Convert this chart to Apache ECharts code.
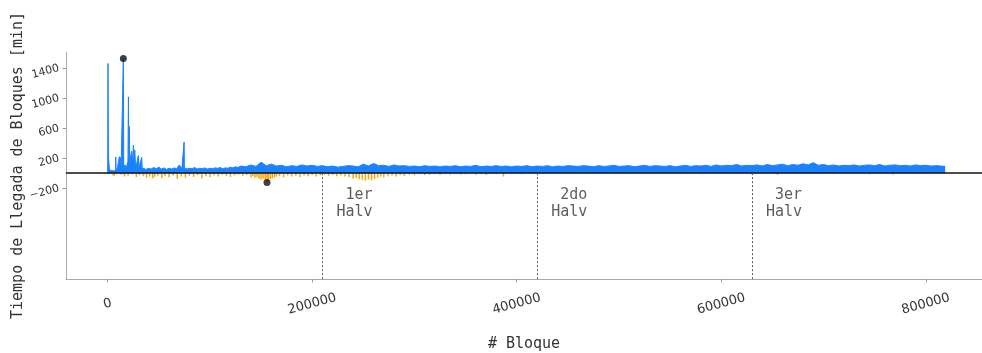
<!DOCTYPE html>
<html>
<head>
<meta charset="utf-8">
<script src="https://cdn.jsdelivr.net/npm/echarts@6/dist/echarts.min.js"></script>
<style>
  html, body { margin: 0; padding: 0; background: #fff; }
  #chart { width: 982px; height: 353px; }
</style>
</head>
<body>
<div id="chart"></div>
<script>
// bloques y tiempos (min) de la serie positiva
var bloquesPos = [
    0, 300, 700, 1300, 1800, 3000, 4500, 6000, 7600, 7900, 8200, 9500, 11000, 11400, 11700,
    12800, 13100, 14000, 14900, 15300, 15700, 17000, 18500, 19800, 20250, 20700, 21200, 21600,
    22500, 23500, 24200, 25100, 25700, 26500, 27200, 28500, 30000, 30500, 32000, 33300, 33700,
    35000, 37500, 40000, 42500, 45000, 47500, 50000, 52500, 55000, 57500, 60000, 62500, 65000,
    67500, 70000, 72500, 74400, 74700, 75000, 77500, 80000, 82500, 85000, 87500, 90000, 92500,
    95000, 97500, 100000, 102500, 105000, 107500, 110000, 112500, 115000, 117500, 120000, 122500,
    125000, 127500, 130000, 135000, 140000, 145000, 150000, 155000, 160000, 165000, 170000,
    175000, 180000, 185000, 190000, 195000, 200000, 205000, 210000, 215000, 220000, 225000,
    230000, 235000, 240000, 245000, 250000, 255000, 260000, 265000, 270000, 275000, 280000,
    285000, 290000, 295000, 300000, 305000, 310000, 315000, 320000, 325000, 330000, 335000,
    340000, 345000, 350000, 355000, 360000, 365000, 370000, 375000, 380000, 385000, 390000,
    395000, 400000, 405000, 410000, 415000, 420000, 425000, 430000, 435000, 440000, 445000,
    450000, 455000, 460000, 465000, 470000, 475000, 480000, 485000, 490000, 495000, 500000,
    505000, 510000, 515000, 520000, 525000, 530000, 535000, 540000, 545000, 550000, 555000,
    560000, 565000, 570000, 575000, 580000, 585000, 590000, 595000, 600000, 605000, 610000,
    615000, 620000, 625000, 630000, 635000, 640000, 645000, 650000, 655000, 660000, 665000,
    670000, 675000, 680000, 685000, 690000, 695000, 700000, 705000, 710000, 715000, 720000,
    725000, 730000, 735000, 740000, 745000, 750000, 755000, 760000, 765000, 770000, 775000,
    780000, 785000, 790000, 795000, 800000, 805000, 810000, 815000, 819000
];
var tiemposPos = [
    0, 1460, 220, 220, 40, 55, 35, 60, 30, 215, 40, 70, 45, 220, 50,
    210, 60, 85, 70, 1525, 110, 130, 90, 160, 1015, 200, 620, 160,
    230, 290, 120, 370, 160, 310, 100, 140, 235, 80, 100, 210, 70,
    60, 50, 65, 55, 75, 60, 80, 55, 70, 50, 65, 55, 70,
    60, 110, 60, 70, 415, 70, 55, 65, 60, 75, 55, 65, 60,
    70, 55, 65, 60, 70, 65, 75, 60, 70, 65, 80, 70,
    85, 75, 95, 85, 110, 90, 145, 100, 120, 95, 105,
    85, 100, 90, 110, 95, 105, 90, 100, 85, 95, 80,
    90, 100, 95, 85, 120, 95, 130, 100, 105, 90, 110,
    95, 100, 90, 95, 85, 100, 90, 95, 85, 95, 90,
    100, 85, 95, 90, 105, 85, 95, 90, 100, 90, 95,
    85, 95, 90, 100, 85, 95, 90, 100, 85, 95, 90,
    100, 95, 90, 100, 95, 85, 100, 90, 95, 105, 90,
    95, 100, 85, 95, 105, 90, 100, 95, 90, 100, 85,
    95, 105, 90, 100, 95, 105, 90, 110, 95, 105, 100,
    115, 95, 105, 100, 110, 95, 115, 100, 110, 120, 100,
    115, 105, 125, 110, 140, 105, 115, 100, 110, 95, 105,
    100, 110, 95, 105, 110, 100, 115, 95, 105, 110, 100,
    105, 95, 110, 100, 105, 95, 100, 95, 90
];
// bloques y tiempos (min) negativos
var bloquesNeg = [
    5300, 6500, 9000, 13000, 16500, 20000, 24000, 28000, 31000, 35000, 38000, 41000, 44000,
    46000, 49000, 53000, 56000, 60000, 64000, 68000, 72000, 76000, 80000, 84000, 88000, 92000,
    96000, 100000, 104000, 108000, 112000, 116000, 120000, 124000, 128000, 132000, 136000,
    140000, 142000, 144000, 146000, 148000, 150000, 152000, 154000, 155800, 157000, 159000,
    161000, 163000, 165000, 168000, 172000, 176000, 180000, 184000, 188000, 192000, 196000,
    200000, 204000, 208000, 212000, 216000, 220000, 224000, 228000, 232000, 236000, 240000,
    243000, 246000, 249000, 252000, 255000, 258000, 261000, 264000, 267000, 270000, 274000,
    278000, 282000, 286000, 290000, 295000, 300000, 305000, 310000, 315000, 320000, 325000,
    330000, 335000, 340000, 345000, 350000, 355000, 360000, 365000, 370000, 375000, 380000,
    387000, 395000, 405000, 415000, 430000, 450000, 470000, 500000, 530000, 560000, 600000,
    630000, 655000, 690000, 720000, 745000, 768000, 790000
];
var tiemposNeg = [
    -30, -35, -15, -20, -45, -30, -15, -50, -25, -40, -60, -45, -70,
    -50, -35, -65, -40, -55, -30, -75, -45, -60, -35, -50, -25, -70,
    -40, -55, -30, -45, -20, -35, -50, -30, -20, -40, -25,
    -55, -40, -60, -50, -75, -85, -70, -95, -120, -90, -80,
    -70, -60, -45, -40, -55, -30, -45, -35, -50, -30, -40,
    -25, -45, -30, -20, -35, -25, -40, -30, -45, -55, -70,
    -65, -80, -90, -100, -85, -95, -75, -60, -45, -55, -40,
    -30, -45, -25, -35, -20, -30, -15, -25, -20, -15, -25,
    -15, -20, -10, -20, -15, -10, -20, -15, -25, -10, -15,
    -45, -10, -15, -10, -12, -10, -12, -10, -12, -10, -12,
    -20, -22, -12, -10, -15, -20, -10
];
// extremos (bloque, min)
var extremos = [[15300, 1525], [155800, -124]];
// halvings
var halvings = [210000, 420000, 630000];
var halvingTextos = [' 1er\nHalv', ' 2do\nHalv', ' 3er\nHalv'];
// ticks
var ticksX = [0, 200000, 400000, 600000, 800000];
var ticksY = [-200, 200, 600, 1000, 1400];

var yMin = -1408, yMax = 1612;
var mono = 'DejaVu Sans Mono';

function zip(a, b) {
    return a.map(function (v, i) { return [v, b[i]]; });
}
function plano(v) { return String(v).replace('-', '\u2212'); }

var chart = echarts.init(document.getElementById('chart'));
chart.setOption({
    animation: false,
    grid: { left: 66, right: 0, top: 52, bottom: 74, outerBoundsMode: 'none' },
    xAxis: {
        type: 'value',
        min: -40780,
        max: 855000,
        name: '# Bloque',
        nameLocation: 'middle',
        nameGap: 58,
        nameMoveOverlap: false,
        nameTextStyle: { fontFamily: mono, fontSize: 15, color: '#333' },
        splitLine: { show: false },
        axisLine: { onZero: false, lineStyle: { color: '#aaa', width: 1 } },
        axisTick: { customValues: ticksX, length: 3.5, lineStyle: { color: '#999' } },
        axisLabel: {
            customValues: ticksX,
            formatter: plano,
            rotate: 15,
            align: 'center',
            verticalAlign: 'middle',
            margin: 25,
            fontFamily: 'DejaVu Sans',
            fontSize: 13,
            color: '#333'
        }
    },
    yAxis: {
        type: 'value',
        min: yMin,
        max: yMax,
        name: 'Tiempo de Llegada de Bloques [min]',
        nameLocation: 'middle',
        nameGap: 40,
        nameMoveOverlap: false,
        nameTextStyle: { fontFamily: mono, fontSize: 15, color: '#333' },
        splitLine: { show: false },
        axisLine: { show: true, onZero: false, lineStyle: { color: '#aaa', width: 1 } },
        axisTick: { show: true, customValues: ticksY, length: 3.5, lineStyle: { color: '#999' } },
        axisLabel: {
            customValues: ticksY,
            formatter: plano,
            rotate: 15,
            margin: 7,
            fontFamily: 'DejaVu Sans',
            fontSize: 11,
            color: '#333'
        }
    },
    series: [
        {
            name: 'neg',
            type: 'bar',
            data: zip(bloquesNeg, tiemposNeg),
            barWidth: 1.5,
            itemStyle: { color: '#FFA500' },
            silent: true
        },
        {
            name: 'pos',
            type: 'line',
            data: zip(bloquesPos, tiemposPos),
            symbol: 'none',
            lineStyle: { color: '#1a82ff', width: 1 },
            areaStyle: { color: '#1a82ff', opacity: 1 },
            silent: true,
            markLine: {
                silent: true,
                symbol: 'none',
                label: { show: false },
                lineStyle: { color: '#111', width: 1.5, type: 'solid' },
                data: [{ yAxis: 0 }]
            }
        },
        {
            name: 'halvings',
            type: 'scatter',
            data: halvings.map(function (h, i) { return { value: [h, -405], name: halvingTextos[i] }; }),
            symbolSize: 0,
            label: {
                show: true,
                position: 'right',
                distance: 14,
                formatter: function (p) { return p.name; },
                fontFamily: mono,
                fontSize: 15,
                lineHeight: 17.5,
                color: '#333'
            },
            markLine: {
                silent: true,
                symbol: 'none',
                label: { show: false },
                lineStyle: { color: '#555', width: 1, type: [2, 2] },
                data: halvings.map(function (h) {
                    return [{ coord: [h, 0] }, { coord: [h, yMin] }];
                })
            }
        },
        {
            name: 'extremos',
            type: 'scatter',
            data: extremos,
            symbolSize: 7,
            itemStyle: { color: '#111' },
            z: 5
        }
    ]
});
</script>
</body>
</html>
